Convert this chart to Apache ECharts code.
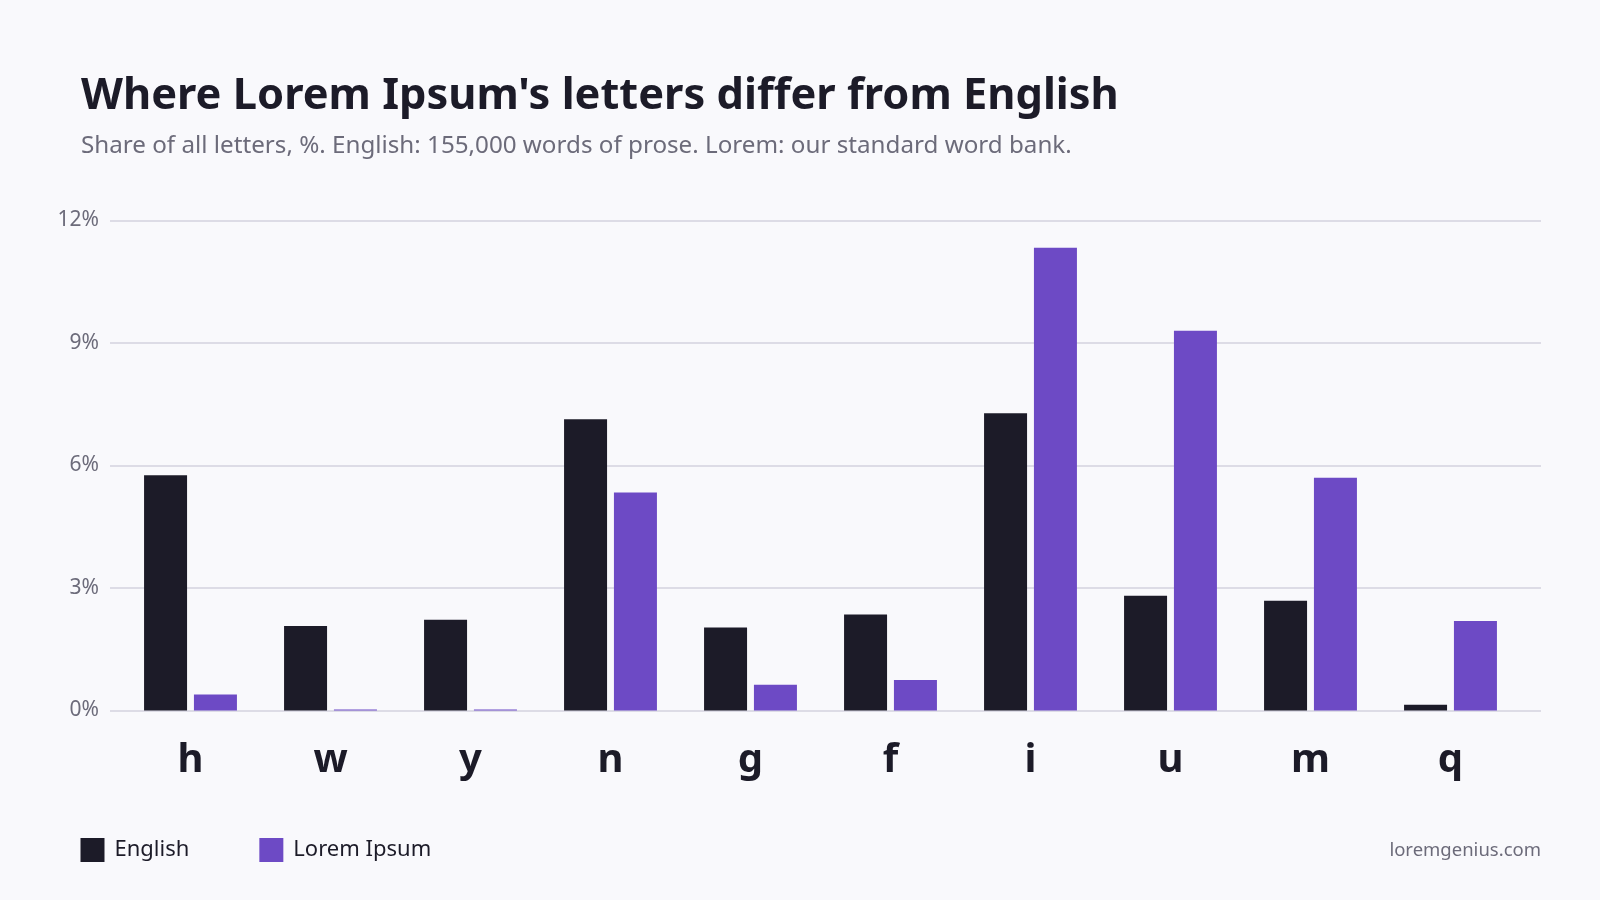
<!DOCTYPE html>
<html>
<head>
<meta charset="utf-8">
<title>Lorem Ipsum letters</title>
<script src="https://cdn.jsdelivr.net/npm/echarts@6/dist/echarts.min.js"></script>
<style>
    html, body { margin: 0; padding: 0; background: #f9f9fc; }
    #main { width: 1600px; height: 900px; }
</style>
</head>
<body>
<div id="main"></div>
<script>
// 数据
var letters = ['h', 'w', 'y', 'n', 'g', 'f', 'i', 'u', 'm', 'q'];
var englishShare = [5.76, 2.07, 2.22, 7.13, 2.03, 2.35, 7.28, 2.81, 2.69, 0.14];
var loremShare = [0.39, 0.025, 0.025, 5.34, 0.63, 0.75, 11.33, 9.30, 5.70, 2.19];
var yTicks = [0, 3, 6, 9, 12];

var FONT = '"Noto Sans", "Open Sans", sans-serif';
var DARK = '#1c1b28';
var PURPLE = '#6d4ac5';
var MUTED = '#6c6b7a';

var myChart = echarts.init(document.getElementById('main'));

var option = {
    backgroundColor: '#f9f9fc',
    textStyle: { fontFamily: FONT },
    title: [{
        text: "Where Lorem Ipsum's letters differ from English",
        left: 76,
        top: 70,
        textStyle: { fontFamily: FONT, fontSize: 43.4, fontWeight: 'bold', color: DARK }
    }, {
        text: 'Share of all letters, %. English: 155,000 words of prose. Lorem: our standard word bank.',
        left: 76,
        top: 129,
        textStyle: { fontFamily: FONT, fontSize: 24.2, fontWeight: 'normal', color: MUTED }
    }],
    legend: {
        left: 80.5,
        top: 838,
        padding: 0,
        icon: 'rect',
        itemWidth: 24,
        itemHeight: 24,
        itemGap: 70,
        textStyle: { fontFamily: FONT, fontSize: 22, color: DARK, padding: [0, 0, 0, 5] },
        data: ['English', 'Lorem Ipsum']
    },
    // 两个grid：外层画网格线，内层画柱子
    grid: [
        { left: 110, right: 59, top: 220.5, bottom: 189.5 },
        { left: 120.5, right: 79.5, top: 220.5, bottom: 189.5 }
    ],
    xAxis: [{
        gridIndex: 0,
        type: 'value',
        show: false
    }, {
        gridIndex: 1,
        type: 'category',
        data: letters,
        axisLine: { show: false },
        axisTick: { show: false },
        axisLabel: {
            margin: 30,
            fontFamily: FONT,
            fontSize: 40,
            fontWeight: 'bold',
            color: DARK
        }
    }],
    yAxis: [{
        gridIndex: 0,
        type: 'value',
        min: yTicks[0],
        max: yTicks[yTicks.length - 1],
        interval: 3,
        axisLine: { show: false },
        axisTick: { show: false },
        axisLabel: {
            margin: 11,
            fontFamily: FONT,
            fontSize: 21,
            color: MUTED,
            padding: [4, 0, 0, 0],
            formatter: '{value}%'
        },
        splitLine: { lineStyle: { color: '#dddce6', width: 2 } }
    }, {
        gridIndex: 1,
        type: 'value',
        min: yTicks[0],
        max: yTicks[yTicks.length - 1],
        show: false,
        splitLine: { show: false }
    }],
    series: [{
        name: 'English',
        type: 'bar',
        xAxisIndex: 1,
        yAxisIndex: 1,
        barWidth: 43,
        barGap: '16%',
        itemStyle: { color: DARK },
        data: englishShare
    }, {
        name: 'Lorem Ipsum',
        type: 'bar',
        xAxisIndex: 1,
        yAxisIndex: 1,
        barWidth: 43,
        barGap: '16%',
        itemStyle: { color: PURPLE },
        data: loremShare
    }],
    graphic: [{
        type: 'text',
        right: 59,
        top: 841,
        style: {
            text: 'loremgenius.com',
            fontFamily: FONT,
            fontSize: 18.5,
            fill: MUTED
        }
    }]
};
myChart.setOption(option);
</script>
</body>
</html>
